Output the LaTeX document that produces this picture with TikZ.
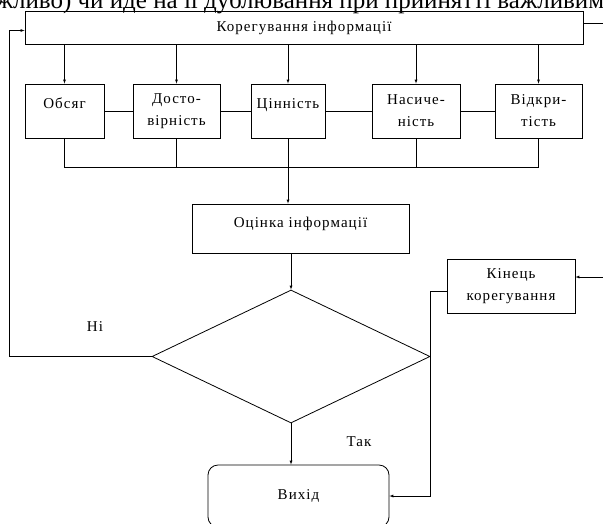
\documentclass[tikz,border=0pt]{standalone}
\usepackage{fontspec}
\setmainfont{Liberation Serif}
\newfontfamily\boxfont[LetterSpace=7]{Liberation Serif}
\usetikzlibrary{shapes.geometric}

\begin{document}
\begin{tikzpicture}[x=1pt,y=-1pt,>=latex,
  box/.style={draw,line width=0.8pt,inner sep=0pt,align=center,font=\boxfont\fontsize{15}{22}\selectfont},
  crit/.style={box,minimum height=54},
  oneline/.style={text height=9pt,text depth=15pt},
  lbl/.style={font=\boxfont\fontsize{15}{18}\selectfont}]

\useasboundingbox (0,0) rectangle (603,523);
\clip (0,0) rectangle (603,523);

% Page text above the figure (cut off at the top)
\node[font=\fontsize{25}{25}\selectfont,anchor=base,inner sep=0pt] (page) at (300,8) {жливо) чи йде на її дублювання при прийнятті важливим};

% Top box
\node[box,minimum width=558,minimum height=33] (kor) at (304,27.5) {Корегування інформації};

% Criteria
\node[crit,oneline,minimum width=79] (obs) at (64.5,111) {Обсяг};
\node[crit,minimum width=87] (dost) at (176.5,111) {Досто-\\вірність};
\node[crit,oneline,minimum width=74] (cin) at (288,111) {Цінність};
\node[crit,minimum width=88] (nas) at (416,111) {Насиче-\\ність};
\node[crit,minimum width=87] (vid) at (538.5,111) {Відкри-\\тість};

% Evaluation, decision, end of correction, exit
\node[box,minimum width=217,minimum height=49,text height=9pt,text depth=12pt] (ocin) at (300.5,228.5) {Оцінка інформації};
\node[draw,line width=0.8pt,diamond,inner sep=0pt,minimum width=278,minimum height=133] (dec) at (291,356.5) {};
\node[box,minimum width=128,minimum height=54] (kin) at (511,286) {Кінець\\корегування};
\node[box,rounded corners=10pt,minimum width=181,minimum height=62] (vyh) at (298.5,496) {Вихід};

% Yes / No
\node[lbl] (ni) at (95,327) {Ні};
\node[lbl] (tak) at (359,442) {Так};

% Arrows from the top box down to the criteria
\foreach \n in {obs,dost,cin,nas,vid}
  \draw[->] (kor.south -| \n.north) -- (\n.north);

% Lines between the criteria
\draw (obs) -- (dost) -- (cin) -- (nas) -- (vid);

% Lines below the criteria, joined together
\coordinate (mrg) at (0,167);
\draw (obs.south) -- (obs.south |- mrg) -- (vid.south |- mrg) -- (vid.south);
\draw (dost.south) -- (dost.south |- mrg);
\draw (nas.south) -- (nas.south |- mrg);
\draw[->] (cin.south) -- (cin.south |- ocin.north);

% Evaluation to decision, decision to exit
\draw[->] (dec.north |- ocin.south) -- (dec.north);
\draw[->] (dec.south) -- (dec.south |- vyh.north);

% No: back to the top box
\coordinate (back) at (9.5,30.5);
\draw[->] (dec.west) -- (dec.west -| back) -- (back) -- (kor.west |- back);

% Loose ends on the right
\coordinate (out) at (610,23);
\draw (kor.east |- out) -- (out);
\coordinate (inp) at (610,277);
\draw[->] (inp) -- (kin.east |- inp);

% End of correction to exit
\coordinate (dn) at (430,291);
\draw[->] (kin.west |- dn) -- (dn) -- (dn |- vyh.east) -- (vyh.east);

\end{tikzpicture}
\end{document}
